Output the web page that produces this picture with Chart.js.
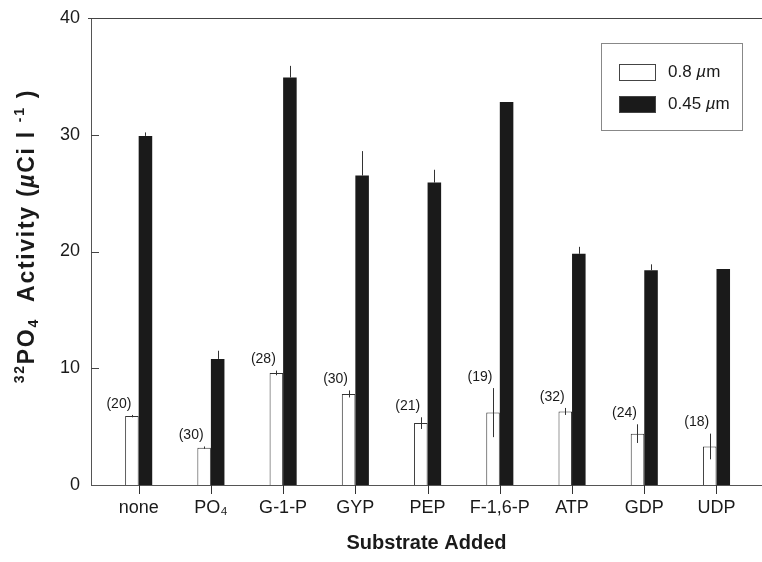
<!DOCTYPE html>
<html>
<head>
<meta charset="utf-8">
<script src="https://cdn.jsdelivr.net/npm/chart.js@4/dist/chart.umd.min.js"></script>
<style>
html, body { margin: 0; padding: 0; background: #fff; }
#wrap { width: 762px; height: 562px; }
</style>
</head>
<body>
<div id="wrap"><canvas id="chart"></canvas></div>
<script>
// data
const categories = ['none', 'PO\u2084', 'G-1-P', 'GYP', 'PEP', 'F-1,6-P', 'ATP', 'GDP', 'UDP'];
const coarse = [5.9, 3.2, 9.6, 7.8, 5.3, 6.2, 6.3, 4.4, 3.3];          // 0.8 µm
const coarseErr = [0.1, 0.1, 0.2, 0.3, 0.5, 2.1, 0.3, 0.8, 1.1];
const fine = [29.9, 10.8, 34.9, 26.5, 25.9, 32.8, 19.8, 18.4, 18.5];  // 0.45 µm
const fineErr = [0.3, 0.7, 1.0, 2.1, 1.1, 0, 0.6, 0.5, 0];
const counts = ['(20)', '(30)', '(28)', '(30)', '(21)', '(19)', '(32)', '(24)', '(18)'];
const yTicks = [0, 10, 20, 30, 40];

const FONT = '"Liberation Sans", Arial, Helvetica, sans-serif';
const INK = '#1a1a1a';

// error bars, sample counts, x tick marks
const errorBars = {
    id: 'errorBars',
    afterDatasetsDraw(chart) {
        const ctx = chart.ctx;
        const y = chart.scales.y;
        const a = chart.chartArea;
        const errs = [coarseErr, fineErr];
        ctx.save();
        ctx.lineWidth = 1;
        ctx.strokeStyle = '#333';
        [0, 1].forEach(di => {
            const meta = chart.getDatasetMeta(di);
            meta.data.forEach((bar, i) => {
                const v = chart.data.datasets[di].data[i].y;
                const e = errs[di][i];
                if (e > 0) {
                    // black bars: only the part above the bar shows anyway
                    const lo = di === 0 ? Math.max(0, v - e) : v;
                    ctx.beginPath();
                    ctx.moveTo(Math.round(bar.x) + 0.5, y.getPixelForValue(v + e));
                    ctx.lineTo(Math.round(bar.x) + 0.5, y.getPixelForValue(lo));
                    ctx.stroke();
                }
                if (di === 0) {
                    const top = y.getPixelForValue(v + e);
                    ctx.fillStyle = INK;
                    ctx.font = '14px ' + FONT;
                    ctx.textAlign = 'center';
                    ctx.textBaseline = 'middle';
                    ctx.fillText(counts[i], bar.x - 13, top - 11);
                    // tick mark under the axis, where the two bars meet
                    ctx.fillStyle = '#333';
                    ctx.fillRect(Math.round(bar.x + bar.width / 2), Math.round(a.bottom), 1, 9);
                }
            });
        });
        ctx.restore();
    }
};

// y title with real super/subscripts
function drawYTitle(ctx, cx, cy) {
    const big = 'bold 23px ' + FONT;
    const sml = 'bold 14px ' + FONT;
    const runs = [
        { t: '32', f: sml, dy: -8 },
        { t: 'PO', f: big, dy: 0 },
        { t: '4', f: sml, dy: 6 },
        { t: '  Activity (', f: big, dy: 0 },
        { t: 'µ', f: 'italic ' + big, dy: 0 },
        { t: 'Ci l ', f: big, dy: 0 },
        { t: '-1', f: sml, dy: -8 },
        { t: ' )', f: big, dy: 0 }
    ];
    ctx.save();
    ctx.letterSpacing = '1.7px';
    let total = 0;
    runs.forEach(r => { ctx.font = r.f; r.w = ctx.measureText(r.t).width; total += r.w; });
    ctx.translate(cx, cy);
    ctx.rotate(-Math.PI / 2);
    ctx.fillStyle = INK;
    ctx.textAlign = 'left';
    ctx.textBaseline = 'middle';
    let x = -total / 2;
    runs.forEach(r => {
        ctx.font = r.f;
        ctx.fillText(r.t, x, r.dy);
        x += r.w;
    });
    ctx.restore();
}

// frame bits: top line, y tick marks, boxed legend
const frame = {
    id: 'frame',
    afterDraw(chart) {
        const ctx = chart.ctx;
        const a = chart.chartArea;
        const y = chart.scales.y;
        ctx.save();
        ctx.strokeStyle = '#444';
        ctx.lineWidth = 1;
        ctx.beginPath();
        ctx.moveTo(a.left - 3, a.top + 0.5);
        ctx.lineTo(a.right, a.top + 0.5);
        ctx.stroke();
        ctx.fillStyle = '#444';
        yTicks.slice(1, -1).forEach(t => {
            ctx.fillRect(a.left, Math.round(y.getPixelForValue(t)), 8, 1);
        });

        drawYTitle(ctx, 28, 236);

        // legend box
        ctx.strokeStyle = '#888';
        ctx.strokeRect(601.5, 43.5, 141, 87);
        chart.data.datasets.forEach((ds, i) => {
            const ty = 72 + i * 32;
            ctx.fillStyle = ds.backgroundColor;
            ctx.fillRect(619, ty - 8, 37, 17);
            ctx.strokeStyle = '#444';
            ctx.strokeRect(619.5, ty - 7.5, 36, 16);
            ctx.fillStyle = INK;
            ctx.textAlign = 'left';
            ctx.textBaseline = 'middle';
            const parts = ds.label.split('µ');
            let x = 668;
            ctx.font = '17px ' + FONT;
            ctx.fillText(parts[0], x, ty);
            x += ctx.measureText(parts[0]).width;
            ctx.font = 'italic 17px ' + FONT;
            ctx.fillText('µ', x, ty);
            x += ctx.measureText('µ').width;
            ctx.font = '17px ' + FONT;
            ctx.fillText(parts[1], x, ty);
        });
        ctx.restore();
    }
};

new Chart(document.getElementById('chart'), {
    type: 'bar',
    data: {
        datasets: [{
            label: '0.8 µm',
            data: coarse.map((v, i) => ({ x: i, y: v })),
            backgroundColor: '#ffffff',
            borderColor: '#333',
            borderWidth: 1
        }, {
            label: '0.45 µm',
            data: fine.map((v, i) => ({ x: i, y: v })),
            backgroundColor: INK,
            borderWidth: 0
        }]
    },
    options: {
        responsive: true,
        maintainAspectRatio: false,
        animation: false,
        categoryPercentage: 0.375,
        barPercentage: 1,
        layout: { padding: { top: 18, right: 0, left: 0, bottom: 0 } },
        plugins: {
            legend: { display: false },
            tooltip: { enabled: false }
        },
        scales: {
            x: {
                type: 'linear',
                min: -0.66,
                max: 8.63,
                offset: false,
                afterFit: s => { s.height = 77; s.paddingLeft = 0; s.paddingRight = 0; },
                border: { color: '#555', width: 1 },
                grid: { display: false },
                ticks: {
                    stepSize: 1,
                    includeBounds: false,
                    autoSkip: false,
                    maxRotation: 0,
                    padding: 4,
                    color: INK,
                    font: { family: FONT, size: 18 },
                    callback: v => categories[v] ?? ''
                },
                title: {
                    display: true,
                    text: 'Substrate Added',
                    color: INK,
                    font: { family: FONT, size: 20, weight: 'bold' },
                    padding: { top: 0, bottom: 7 }
                }
            },
            y: {
                min: 0,
                max: 40,
                afterFit: s => { s.width = 91; s.paddingTop = 0; s.paddingBottom = 0; },
                border: { color: '#555', width: 1 },
                grid: { display: false, drawTicks: false },
                ticks: {
                    stepSize: 10,
                    padding: 11,
                    color: INK,
                    font: { family: FONT, size: 18 }
                },
                title: { display: false }
            }
        }
    },
    plugins: [errorBars, frame]
});
</script>
</body>
</html>
